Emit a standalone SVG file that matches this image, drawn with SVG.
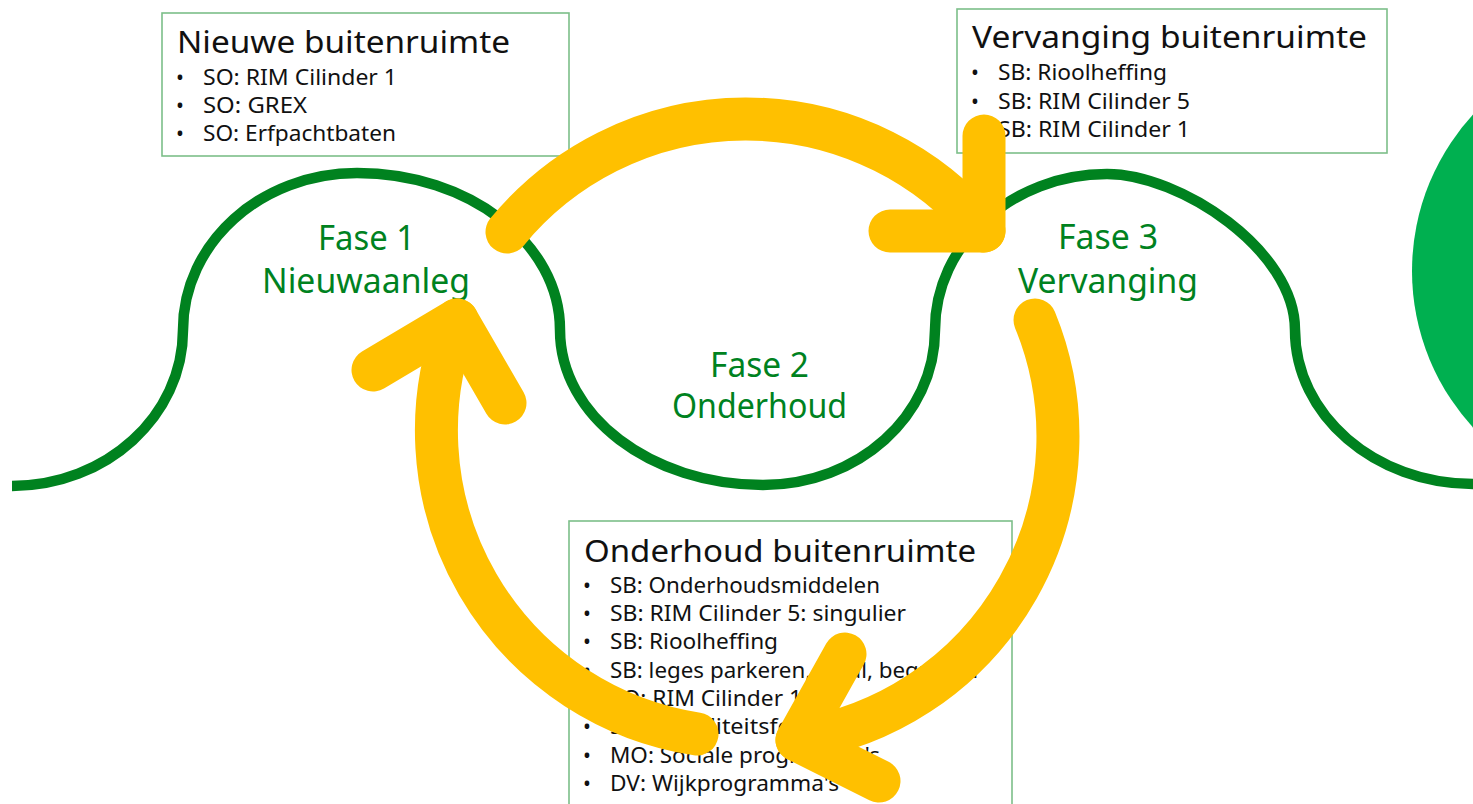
<svg xmlns="http://www.w3.org/2000/svg" width="1473" height="804" viewBox="0 0 1473 804">
  <style>
    .wave{fill:none;stroke:#00821F;stroke-width:10.5;stroke-linecap:butt}
    .phase{font-family:"Noto Sans","Open Sans","Liberation Sans",sans-serif;font-size:35px;fill:#00821F;text-anchor:middle}
    .box{fill:#FFFFFF;stroke:#7CBF89;stroke-width:1.6}
    .title{font-family:"Noto Sans","Open Sans","Liberation Sans",sans-serif;font-size:31px;fill:#111111}
    .item{font-family:"Noto Sans","Open Sans","Liberation Sans",sans-serif;font-size:21px;fill:#111111}
    .arrow{fill:none;stroke:#FFC000;stroke-width:43;stroke-linecap:round;stroke-linejoin:round}
  </style>
  <rect width="1473" height="804" fill="#FFFFFF"/>

  <g id="background">
    <circle id="green-disc" cx="1643" cy="271" r="231" fill="#00B050"/>
    <path id="wave" class="wave" d="M12,486 C106,486 183,416 183,330 C183,243 261,173 357,173 C469,173 560,243 560,330 C560,416 651,485 763,485 C858,485 935,416 935,330 C935,244 1012,174 1107,174 C1180,174 1295,250 1295,330 C1295,415 1375,484 1473,484"/>
  </g>

  <g id="fase1">
    <text class="phase" x="366.5" y="250" textLength="97" lengthAdjust="spacingAndGlyphs">Fase 1</text>
    <text class="phase" x="366" y="293" textLength="208" lengthAdjust="spacingAndGlyphs">Nieuwaanleg</text>
  </g>
  <g id="fase2">
    <text class="phase" x="759.5" y="377" textLength="99" lengthAdjust="spacingAndGlyphs">Fase 2</text>
    <text class="phase" x="759.5" y="418" textLength="175" lengthAdjust="spacingAndGlyphs">Onderhoud</text>
  </g>
  <g id="fase3">
    <text class="phase" x="1108" y="249" textLength="100" lengthAdjust="spacingAndGlyphs">Fase 3</text>
    <text class="phase" x="1108" y="293" textLength="180" lengthAdjust="spacingAndGlyphs">Vervanging</text>
  </g>

  <g id="box-nieuwe-buitenruimte">
    <rect class="box" x="162" y="13" width="407" height="143"/>
    <text class="title" x="177" y="53" textLength="333" lengthAdjust="spacingAndGlyphs">Nieuwe buitenruimte</text>
    <text class="item" x="176" y="85">•</text>
    <text class="item" x="203" y="85" textLength="194" lengthAdjust="spacingAndGlyphs">SO: RIM Cilinder 1</text>
    <text class="item" x="176" y="113">•</text>
    <text class="item" x="203" y="113" textLength="104" lengthAdjust="spacingAndGlyphs">SO: GREX</text>
    <text class="item" x="176" y="141">•</text>
    <text class="item" x="203" y="141" textLength="193" lengthAdjust="spacingAndGlyphs">SO: Erfpachtbaten</text>
  </g>

  <g id="box-vervanging-buitenruimte">
    <rect class="box" x="957" y="9" width="430" height="144"/>
    <text class="title" x="972" y="48" textLength="395" lengthAdjust="spacingAndGlyphs">Vervanging buitenruimte</text>
    <text class="item" x="971" y="80">•</text>
    <text class="item" x="998" y="80" textLength="169" lengthAdjust="spacingAndGlyphs">SB: Rioolheffing</text>
    <text class="item" x="971" y="109">•</text>
    <text class="item" x="998" y="109" textLength="192" lengthAdjust="spacingAndGlyphs">SB: RIM Cilinder 5</text>
    <text class="item" x="971" y="137">•</text>
    <text class="item" x="998" y="137" textLength="192" lengthAdjust="spacingAndGlyphs">SB: RIM Cilinder 1</text>
  </g>

  <g id="box-onderhoud-buitenruimte">
    <rect class="box" x="569" y="521" width="443" height="300"/>
    <text class="title" x="584" y="562" textLength="392" lengthAdjust="spacingAndGlyphs">Onderhoud buitenruimte</text>
    <text class="item" x="583" y="593">•</text>
    <text class="item" x="610" y="593" textLength="270" lengthAdjust="spacingAndGlyphs">SB: Onderhoudsmiddelen</text>
    <text class="item" x="583" y="621">•</text>
    <text class="item" x="610" y="621" textLength="296" lengthAdjust="spacingAndGlyphs">SB: RIM Cilinder 5: singulier</text>
    <text class="item" x="583" y="649">•</text>
    <text class="item" x="610" y="649" textLength="168" lengthAdjust="spacingAndGlyphs">SB: Rioolheffing</text>
    <text class="item" x="583" y="678">•</text>
    <text class="item" x="610" y="678" textLength="368" lengthAdjust="spacingAndGlyphs">SB: leges parkeren, afval, begraven</text>
    <text class="item" x="583" y="706">•</text>
    <text class="item" x="610" y="706" textLength="192" lengthAdjust="spacingAndGlyphs">SO: RIM Cilinder 1</text>
    <text class="item" x="583" y="734">•</text>
    <text class="item" x="610" y="734" textLength="222" lengthAdjust="spacingAndGlyphs">SO: Mobiliteitsfonds</text>
    <text class="item" x="583" y="763">•</text>
    <text class="item" x="610" y="763" textLength="270" lengthAdjust="spacingAndGlyphs">MO: Sociale programma's</text>
    <text class="item" x="583" y="791">•</text>
    <text class="item" x="610" y="791" textLength="229" lengthAdjust="spacingAndGlyphs">DV: Wijkprogramma's</text>
  </g>

  <g id="connectors">
    <g id="arrow-fase1-to-fase3">
      <path class="arrow" d="M507,232 A309,309 0 0 1 984,231"/>
      <polyline class="arrow" points="890,231 984,231 984,136"/>
    </g>
    <g id="arrow-fase3-to-fase2">
      <path class="arrow" d="M1035,320 A307,307 0 0 1 797,740"/>
      <polyline class="arrow" points="845,654 797,740 879,781"/>
    </g>
    <g id="arrow-fase2-to-fase1">
      <path class="arrow" d="M697,734 A307,307 0 0 1 457,320"/>
      <polyline class="arrow" points="373,370 457,320 505,403"/>
    </g>
  </g>
</svg>
